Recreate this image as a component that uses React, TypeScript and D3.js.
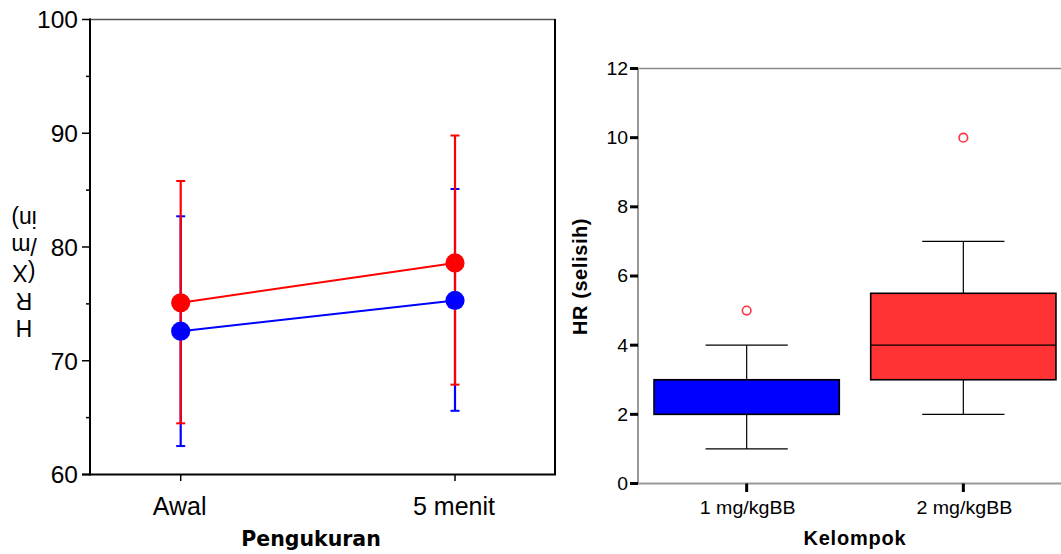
import React from 'react';
import * as d3 from 'd3';

// Left chart: means with error bars
const timepoints = ['Awal', '5 menit'];
const blueMean = [72.6, 75.3];
const blueUpper = [82.7, 85.1];
const blueLower = [62.5, 65.6];
const redMean = [75.1, 78.6];
const redUpper = [85.8, 89.8];
const redLower = [64.5, 67.9];
const leftMajorTicks = [60, 70, 80, 90, 100];
const leftMinorTicks = [65, 75, 85, 95];
const leftYLabelLines = ['H', 'R', '(X', '/m', 'in)'];

// Right chart: boxplot
const groups = ['1 mg/kgBB', '2 mg/kgBB'];
const whiskerLow = [1, 2];
const q1 = [2, 3];
const median = [3, 4];
const q3 = [3, 5.5];
const whiskerHigh = [4, 7];
const outliers = [5, 10];
const boxColors = ['#0000ff', '#ff3333'];
const rightTicks = [0, 2, 4, 6, 8, 10, 12];

export default function App() {
  // left scales
  const yL = d3.scaleLinear().domain([60, 100]).range([474.5, 19.5]);
  const xL = d3.scalePoint<string>().domain(timepoints).range([180.7, 455]);
  const lineGen = d3
    .line<number>()
    .x((_, i) => xL(timepoints[i]) as number)
    .y((d) => yL(d));

  // right scales
  const yR = d3.scaleLinear().domain([0, 12]).range([483.5, 68.5]);
  const xR = d3
    .scaleBand<string>()
    .domain(groups)
    .range([638, 1072])
    .paddingInner(0.145)
    .paddingOuter(0.074);

  const sans = '"Liberation Sans", Arial, sans-serif';

  const series = [
    { color: '#0000ff', mean: blueMean, up: blueUpper, lo: blueLower },
    { color: '#ff0000', mean: redMean, up: redUpper, lo: redLower },
  ];

  return (
    <svg
      width={1061}
      height={554}
      style={{ position: 'absolute', left: 0, top: 0, background: '#fff' }}
      fontFamily={sans}
    >
      <rect x={0} y={0} width={1061} height={554} fill="#fff" />
      {/* ===== Left chart ===== */}
      <g>
        <line x1={90} y1={19.5} x2={555} y2={19.5} stroke="#555" strokeWidth={1.5} />
        <line x1={555} y1={19} x2={555} y2={475} stroke="#000" strokeWidth={2} />
        <line x1={90} y1={18.5} x2={90} y2={475.5} stroke="#000" strokeWidth={2} />
        <line x1={82} y1={474.5} x2={556} y2={474.5} stroke="#000" strokeWidth={2} />
        {leftMajorTicks.map((t) => (
          <g key={t}>
            <line x1={82} x2={90} y1={yL(t)} y2={yL(t)} stroke="#000" strokeWidth={1.5} />
            <text x={78} y={yL(t)} dy="0.36em" textAnchor="end" fontSize={24.5} fill="#000">
              {t}
            </text>
          </g>
        ))}
        {leftMinorTicks.map((t) => (
          <line key={t} x1={86} x2={90} y1={yL(t)} y2={yL(t)} stroke="#000" strokeWidth={1.5} />
        ))}
        {timepoints.map((t) => (
          <g key={t}>
            <line x1={xL(t)} x2={xL(t)} y1={474.5} y2={481} stroke="#000" strokeWidth={1.5} />
            <text x={(xL(t) as number) - 1} y={515} textAnchor="middle" fontSize={25} fill="#000">
              {t}
            </text>
          </g>
        ))}
        <text
          x={311}
          y={546}
          textAnchor="middle"
          fontSize={20.5}
          fontWeight="bold"
          fontFamily='"DejaVu Sans", Verdana, sans-serif'
          fill="#000"
        >
          Pengukuran
        </text>
        {leftYLabelLines.map((l, i) => (
          <text
            key={l}
            transform={`translate(24, ${328 - i * 27.3}) rotate(180)`}
            textAnchor="middle"
            dominantBaseline="central"
            fontSize={23}
            fill="#000"
          >
            {l}
          </text>
        ))}
        {series.map((s) => (
          <g key={s.color}>
            {timepoints.map((t, i) => {
              const x = xL(t) as number;
              return (
                <g key={t}>
                  <line x1={x} x2={x} y1={yL(s.up[i])} y2={yL(s.lo[i])} stroke={s.color} strokeWidth={2.2} />
                  <line x1={x - 4.5} x2={x + 4.5} y1={yL(s.up[i])} y2={yL(s.up[i])} stroke={s.color} strokeWidth={2} />
                  <line x1={x - 4.5} x2={x + 4.5} y1={yL(s.lo[i])} y2={yL(s.lo[i])} stroke={s.color} strokeWidth={2} />
                </g>
              );
            })}
          </g>
        ))}
        {series.map((s) => (
          <g key={'m' + s.color}>
            <path d={lineGen(s.mean) as string} fill="none" stroke={s.color} strokeWidth={2} />
            {timepoints.map((t, i) => (
              <circle key={t} cx={xL(t) as number} cy={yL(s.mean[i])} r={9.6} fill={s.color} />
            ))}
          </g>
        ))}
      </g>

      {/* ===== Right chart ===== */}
      <g>
        <line x1={638} y1={68.5} x2={1061} y2={68.5} stroke="#888" strokeWidth={1.5} />
        <line x1={638} y1={68} x2={638} y2={484} stroke="#999" strokeWidth={2} />
        <line x1={638} y1={483.5} x2={1061} y2={483.5} stroke="#999" strokeWidth={2} />
        {rightTicks.map((t) => (
          <g key={t}>
            <line x1={630} x2={638} y1={yR(t)} y2={yR(t)} stroke="#000" strokeWidth={3} />
            <text
              transform={`translate(628, ${yR(t)}) scale(1.08, 1)`}
              dy="0.36em"
              textAnchor="end"
              fontSize={18}
              fill="#000"
            >
              {t}
            </text>
          </g>
        ))}
        {groups.map((g, i) => {
          const x0 = xR(g) as number;
          const bw = xR.bandwidth();
          const cx = x0 + bw / 2;
          const capHalf = bw * 0.222;
          return (
            <g key={g}>
              <line x1={cx} x2={cx} y1={yR(whiskerHigh[i])} y2={yR(q3[i])} stroke="#000" strokeWidth={1.2} />
              <line x1={cx} x2={cx} y1={yR(q1[i])} y2={yR(whiskerLow[i])} stroke="#000" strokeWidth={1.2} />
              <line x1={cx - capHalf} x2={cx + capHalf} y1={yR(whiskerHigh[i])} y2={yR(whiskerHigh[i])} stroke="#000" strokeWidth={1.2} />
              <line x1={cx - capHalf} x2={cx + capHalf} y1={yR(whiskerLow[i])} y2={yR(whiskerLow[i])} stroke="#000" strokeWidth={1.2} />
              <rect
                x={x0}
                y={yR(q3[i])}
                width={bw}
                height={yR(q1[i]) - yR(q3[i])}
                fill={boxColors[i]}
                stroke="#000"
                strokeWidth={1.6}
              />
              <line x1={x0} x2={x0 + bw} y1={yR(median[i])} y2={yR(median[i])} stroke="#000" strokeWidth={1.2} />
              <circle cx={cx} cy={yR(outliers[i])} r={4.3} fill="none" stroke="#ff3344" strokeWidth={1.6} />
              <line x1={cx} x2={cx} y1={483.5} y2={492} stroke="#000" strokeWidth={3} />
              <text
                transform={`translate(${cx + 1}, 514) scale(1.09, 1)`}
                textAnchor="middle"
                fontSize={18}
                fill="#000"
              >
                {g}
              </text>
            </g>
          );
        })}
        <text x={855} y={545} textAnchor="middle" fontSize={20} fontWeight="bold" letterSpacing={0.8} fill="#000">
          Kelompok
        </text>
        <text
          transform="translate(587, 276.5) rotate(-90)"
          textAnchor="middle"
          fontSize={20}
          fontWeight="bold"
          letterSpacing={0.6}
          fill="#000"
        >
          HR (selisih)
        </text>
      </g>
    </svg>
  );
}
